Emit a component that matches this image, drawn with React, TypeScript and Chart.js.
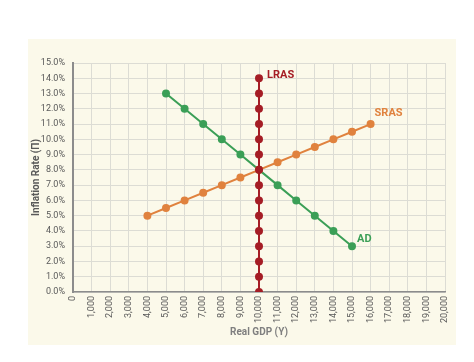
import React, { useEffect, useRef } from "react";
import { Chart, registerables } from "chart.js";

Chart.register(...registerables);

const lrasX = [10000, 10000, 10000, 10000, 10000, 10000, 10000, 10000, 10000, 10000, 10000, 10000, 10000, 10000, 10000];
const lrasY = [0, 1, 2, 3, 4, 5, 6, 7, 8, 9, 10, 11, 12, 13, 14];
const srasX = [4000, 5000, 6000, 7000, 8000, 9000, 10000, 11000, 12000, 13000, 14000, 15000, 16000];
const srasY = [5.0, 5.5, 6.0, 6.5, 7.0, 7.5, 8.0, 8.5, 9.0, 9.5, 10.0, 10.5, 11.0];
const adX = [5000, 6000, 7000, 8000, 9000, 10000, 11000, 12000, 13000, 14000, 15000];
const adY = [13, 12, 11, 10, 9, 8, 7, 6, 5, 4, 3];
const seriesNames = ["LRAS", "SRAS", "AD"];
const xTitle = "Real GDP (Y)";
const yTitle = "Inflation Rate (Π)";

const FONT = "Roboto, 'Liberation Sans', sans-serif";
const colors = ["#a51d25", "#e0823e", "#3b9f57"];
const labelOffsets = [
  [8, -3],
  [4, -11],
  [5, -7],
];

const zip = (xs: number[], ys: number[]) => xs.map((x, i) => ({ x, y: ys[i] }));

export default function App() {
  const ref = useRef<HTMLCanvasElement | null>(null);
  useEffect(() => {
    document.body.style.margin = "0";
    const ctx = ref.current!.getContext("2d")!;
    const panelPlugin = {
      id: "panel",
      beforeDraw(chart: any) {
        const c = chart.ctx;
        c.save();
        c.fillStyle = "#fbf9ea";
        c.fillRect(28, 39, 428, 306);
        c.restore();
      },
      afterDatasetsDraw(chart: any) {
        const c = chart.ctx;
        c.save();
        c.font = `bold 11px ${FONT}`;
        c.textAlign = "left";
        c.textBaseline = "middle";
        chart.data.datasets.forEach((ds: any, i: number) => {
          const meta = chart.getDatasetMeta(i);
          const pt = meta.data[meta.data.length - 1];
          c.fillStyle = colors[i];
          c.fillText(seriesNames[i], pt.x + labelOffsets[i][0], pt.y + labelOffsets[i][1]);
        });
        c.restore();
      },
    };
    const mk = (i: number, data: { x: number; y: number }[]) => ({
      label: seriesNames[i],
      data,
      borderColor: colors[i],
      backgroundColor: colors[i],
      borderWidth: 2,
      pointRadius: 3,
      pointHoverRadius: 3,
      showLine: true,
      fill: false,
    });
    const chart = new Chart(ctx, {
      type: "scatter",
      data: {
        datasets: [mk(0, zip(lrasX, lrasY)), mk(1, zip(srasX, srasY)), mk(2, zip(adX, adY))],
      },
      plugins: [panelPlugin],
      options: {
        animation: false,
        responsive: false,
        layout: { padding: { left: 30, right: 29, top: 63, bottom: 24 } },
        plugins: { legend: { display: false }, tooltip: { enabled: false } },
        scales: {
          x: {
            type: "linear",
            min: 0,
            max: 20000,
            afterFit: (s: any) => {
              s.height = 46;
            },
            ticks: {
              stepSize: 1000,
              autoSkip: false,
              minRotation: 90,
              maxRotation: 90,
              padding: 4,
              color: "#595959",
              font: { family: FONT, size: 9 },
              callback: (v: any) => Number(v).toLocaleString("en-US"),
            },
            grid: { color: "#dcdcd4", drawTicks: false, lineWidth: 1 },
            border: { color: "#8c8c8c", width: 1.5 },
            title: {
              display: true,
              text: xTitle,
              color: "#7f7f7f",
              font: { family: FONT, size: 10, weight: "bold" },
              padding: { top: 4, bottom: 0 },
            },
          },
          y: {
            type: "linear",
            min: 0,
            max: 15,
            afterFit: (s: any) => {
              s.width = 43;
            },
            ticks: {
              stepSize: 1,
              padding: 8,
              color: "#595959",
              font: { family: FONT, size: 9 },
              callback: (v: any) => Number(v).toFixed(1) + "%",
            },
            grid: { color: "#dcdcd4", drawTicks: false, lineWidth: 1 },
            border: { color: "#8c8c8c", width: 2 },
            title: {
              display: true,
              text: yTitle,
              color: "#595959",
              font: { family: FONT, size: 10, weight: "bold" },
              padding: { top: 0, bottom: 4 },
            },
          },
        },
      },
    } as any);
    return () => chart.destroy();
  }, []);
  return (
    <div style={{ position: "absolute", left: 0, top: 0, width: 474, height: 362 }}>
      <canvas ref={ref} width={474} height={362} style={{ width: 474, height: 362, display: "block" }} />
    </div>
  );
}
